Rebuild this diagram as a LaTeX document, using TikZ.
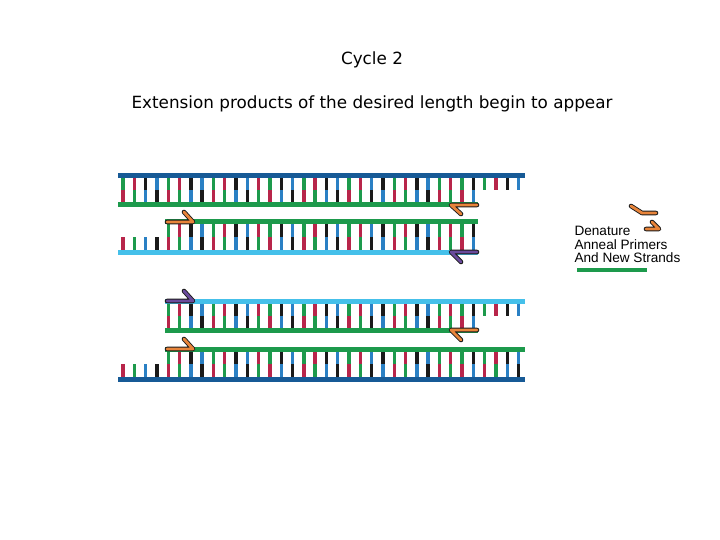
\documentclass[tikz,border=0pt]{standalone}
\usepackage{fontspec}
\setmainfont{DejaVu Sans}
\newfontfamily\arialf{Liberation Sans}
\definecolor{dkb}{HTML}{175A96}
\definecolor{grn}{HTML}{1D9A4C}
\definecolor{ltb}{HTML}{45C0EA}
\definecolor{rd}{HTML}{B8254A}
\definecolor{bk}{HTML}{1A1A1A}
\definecolor{bb}{HTML}{2A80C4}
\definecolor{org}{HTML}{E8843A}
\definecolor{pur}{HTML}{6A4A9C}
\def\seqarr{{1,2,3,4,1,2,3,4,1,2,3,4,2,1,3,4,1,2,3,4,1,2,4,3,1,2,3,4,1,2,1,3,1,2,3,4}}
% #1 ya  #2 yb  #3 from  #4 to  #5 part (0 full,1 upper,2 lower)
\newcommand\mybars[5]{%
  \foreach \i in {#3,...,#4}{%
    \pgfmathtruncatemacro\tt{\seqarr[\i]}%
    \pgfmathsetmacro\xx{123+11.3*\i}%
    \ifcase\tt\or\def\ca{grn}\def\cb{rd}\or\def\ca{rd}\def\cb{grn}\or\def\ca{bk}\def\cb{bb}\or\def\ca{bb}\def\cb{bk}\fi
    \pgfmathsetmacro\ym{(#1+#2)/2}%
    \ifnum#5<2 \draw[bar,\ca] (\xx,#1+2) -- (\xx,\ym);\fi
    \ifnum#5=1\else \draw[bar,\cb] (\xx,\ym) -- (\xx,#2-2);\fi
  }}
\tikzset{strand/.style={line width=5pt},bar/.style={line width=3.4pt},
  prim/.style={line width=4.6pt,line cap=round,line join=round},
  primin/.style={line width=2.8pt,line cap=round,line join=round},
  title/.style={font=\fontsize{16.8}{19}\selectfont},
  leg/.style={font=\arialf\fontsize{13.6}{15}\selectfont,anchor=west}}
\newcommand\primer[2]{\draw[prim,bk] #2; \draw[primin,#1] #2;}
\begin{document}
\begin{tikzpicture}[x=1pt,y=-1pt]
\useasboundingbox[fill=white] (0,0) rectangle (720,540);
\node[title] (t1) at (372,60) {Cycle 2};
\node[title] (t2) at (372,104) {Extension products of the desired length begin to appear};
% duplex 1
\mybars{176}{205}{0}{31}{0}
\mybars{176}{205}{32}{35}{1}
\draw[strand,dkb] (118,176) coordinate (a1) -- (525,176) coordinate (a2);
\draw[strand,grn] (118,205) coordinate (b1) -- (478,205) coordinate (b2);
\primer{org}{(477,205) -- (451,205) -- (461,214)}
% duplex 2
\mybars{222}{252}{4}{31}{0}
\mybars{222}{252}{0}{3}{2}
\draw[strand,grn] (165,222) coordinate (c1) -- (478,222) coordinate (c2);
\draw[strand,ltb] (118,252) coordinate (d1) -- (478,252) coordinate (d2);
\primer{org}{(167,222) -- (193,222) -- (184,212)}
\primer{pur}{(477,252) -- (451,252) -- (461,262)}
% duplex 3
\mybars{301}{330}{4}{31}{0}
\mybars{301}{330}{32}{35}{1}
\draw[strand,ltb] (165,301) coordinate (e1) -- (525,301) coordinate (e2);
\draw[strand,grn] (165,330) coordinate (f1) -- (478,330) coordinate (f2);
\primer{pur}{(167,301) -- (193,301) -- (184,291)}
\primer{org}{(477,330) -- (451,330) -- (461,340)}
% duplex 4
\mybars{349}{379}{4}{35}{0}
\mybars{349}{379}{0}{3}{2}
\draw[strand,grn] (165,349) coordinate (g1) -- (525,349) coordinate (g2);
\draw[strand,dkb] (118,379) coordinate (h1) -- (525,379) coordinate (h2);
\primer{org}{(167,349) -- (193,349) -- (184,339)}
% legend
\primer{org}{(631,206) -- (642,213) -- (656,213)}
\primer{org}{(646,229) -- (659,229) -- (652,222)}
\node[leg] (l1) at (571,231) {Denature};
\node[leg] (l2) at (571,245) {Anneal Primers};
\node[leg] (l3) at (571,258) {And New Strands};
\draw[line width=4pt,grn] (577,270) coordinate (m1) -- (647,270) coordinate (m2);
\end{tikzpicture}
\end{document}
